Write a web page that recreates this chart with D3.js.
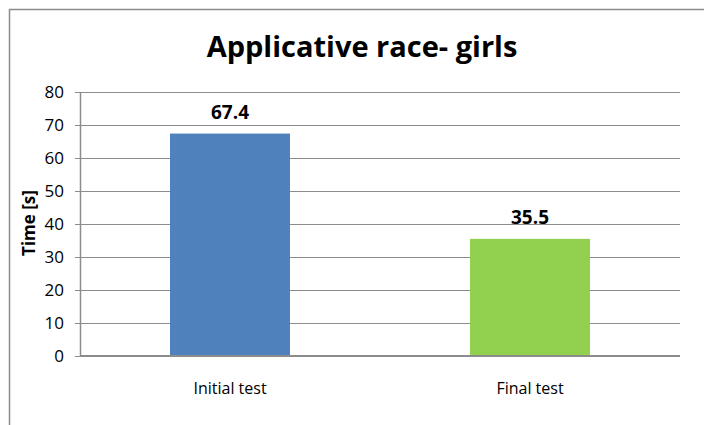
<!DOCTYPE html>
<html>
<head>
<meta charset="utf-8">
<script src="https://cdn.jsdelivr.net/npm/d3@7"></script>
<style>
  body { margin: 0; background: #fff; }
  svg { display: block; }
  text { font-family: "Open Sans", sans-serif; fill: #000; }
</style>
</head>
<body>
<svg id="chart"></svg>
<script>
// data
const categories = ["Initial test", "Final test"];
const values = [67.4, 35.5];
const barColors = ["#4F81BD", "#92D050"];
const yTicks = [0, 10, 20, 30, 40, 50, 60, 70, 80];

const W = 704, H = 425;
const margin = { top: 92, right: 24, bottom: 69, left: 80 };
const width = W - margin.left - margin.right;
const height = H - margin.top - margin.bottom;

const svg = d3.select("#chart")
    .attr("width", W)
    .attr("height", H);

// рамка
svg.append("path")
    .attr("d", `M9.5,${H} V9.5 H${W}`)
    .attr("fill", "none")
    .attr("stroke", "#8c8c8c")
    .attr("stroke-width", 1.5);

// заголовок
svg.append("text")
    .attr("x", 362)
    .attr("y", 57)
    .attr("text-anchor", "middle")
    .style("font-size", "29px")
    .style("font-weight", "bold")
    .text("Applicative race- girls");

const chart = svg.append("g")
    .attr("transform", `translate(${margin.left},${margin.top})`);

const x = d3.scaleBand()
    .domain(categories)
    .range([0, width])
    .paddingInner(0.6)
    .paddingOuter(0.3);

const y = d3.scaleLinear()
    .domain([0, 80])
    .range([height, 0]);

// сетка
chart.append("g")
    .selectAll("line")
    .data(yTicks.filter(d => d > 0))
    .enter()
    .append("line")
    .attr("x1", 0)
    .attr("x2", width)
    .attr("y1", d => Math.round(y(d)) + 0.5)
    .attr("y2", d => Math.round(y(d)) + 0.5)
    .attr("stroke", "#8c8c8c")
    .attr("stroke-width", 1);

// столбцы
chart.selectAll(".bar")
    .data(values)
    .enter()
    .append("rect")
    .attr("class", "bar")
    .attr("x", (d, i) => x(categories[i]))
    .attr("y", d => y(d))
    .attr("width", x.bandwidth())
    .attr("height", d => height - y(d))
    .attr("fill", (d, i) => barColors[i]);

// ось oy
const yAxis = chart.append("g")
    .call(d3.axisLeft(y).tickValues(yTicks).tickSize(5).tickPadding(11).tickFormat(d3.format("d")));
yAxis.select(".domain").attr("stroke", "#8c8c8c").attr("stroke-width", 1.5).attr("d", `M0.5,0 V${height}`);
yAxis.selectAll(".tick line").attr("stroke", "#8c8c8c");
yAxis.selectAll("text")
    .style("font-size", "17px")
    .attr("dy", "0.35em")
    .style("fill", "#000");

// ось ox
const xAxis = chart.append("g")
    .attr("transform", `translate(0,${height})`)
    .call(d3.axisBottom(x).tickSize(0).tickPadding(27));
xAxis.select(".domain").attr("stroke", "#8c8c8c").attr("stroke-width", 2).attr("d", `M0,0 H${width}`);
xAxis.selectAll("text")
    .style("font-size", "16px")
    .style("fill", "#000");

// подпись оси oy
chart.append("text")
    .attr("transform", `translate(${29 - margin.left},${height / 2 - 1}) rotate(-90)`)
    .attr("text-anchor", "middle")
    .attr("dy", "0.35em")
    .style("font-size", "17px")
    .style("font-weight", "bold")
    .text("Time [s]");

// подписи значений
chart.selectAll(".value-label")
    .data(values)
    .enter()
    .append("text")
    .attr("class", "value-label")
    .attr("x", (d, i) => x(categories[i]) + x.bandwidth() / 2)
    .attr("y", d => y(d) - 15)
    .attr("text-anchor", "middle")
    .style("font-size", "19px")
    .style("font-weight", "bold")
    .text(d => d.toFixed(1));
</script>
</body>
</html>
